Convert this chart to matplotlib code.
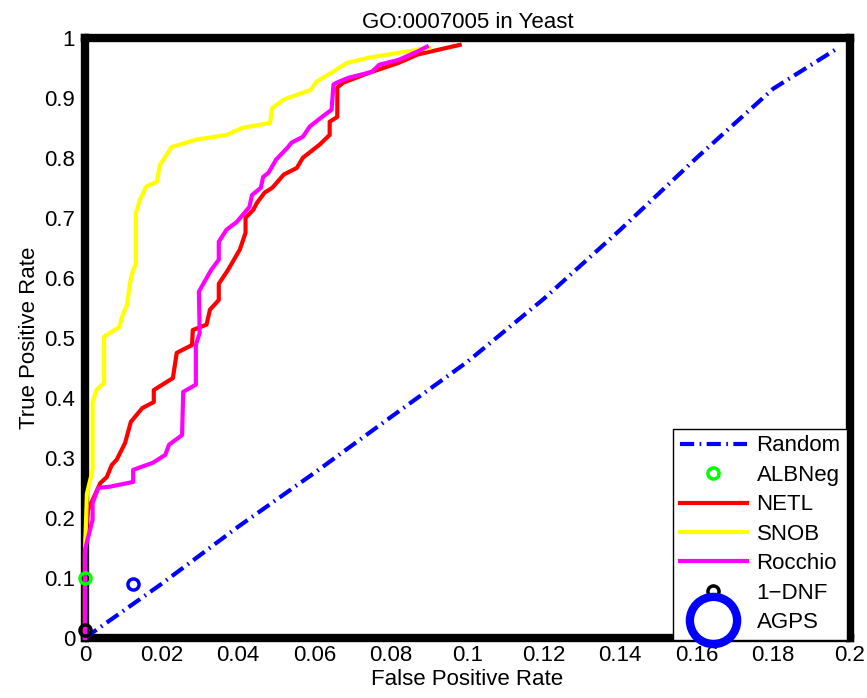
import matplotlib
matplotlib.use("Agg")
import matplotlib.pyplot as plt
from matplotlib.lines import Line2D

plt.rcParams['font.family'] = ['Liberation Sans', 'DejaVu Sans']

# ROC data
rand_fpr = [0, 0.02, 0.04, 0.06, 0.08, 0.1, 0.12, 0.14, 0.16, 0.18, 0.197]
rand_tpr = [0, 0.09, 0.185, 0.275, 0.368, 0.46, 0.565, 0.68, 0.80, 0.915, 0.983]

snob_fpr = [0, 0, 0.0005, 0.002, 0.002, 0.002, 0.003, 0.005, 0.005, 0.009, 0.0097,
            0.011, 0.0118, 0.0126, 0.0133, 0.0133, 0.0144, 0.016, 0.0188, 0.0196,
            0.0227, 0.029, 0.037, 0.0413, 0.0484, 0.049, 0.052, 0.059, 0.0606,
            0.0646, 0.0685, 0.0745, 0.090]
snob_tpr = [0, 0.14, 0.24, 0.28, 0.333, 0.393, 0.413, 0.425, 0.502, 0.518, 0.535,
            0.555, 0.592, 0.613, 0.622, 0.708, 0.73, 0.752, 0.76, 0.788,
            0.818, 0.83, 0.838, 0.85, 0.858, 0.883, 0.897, 0.913, 0.927,
            0.942, 0.958, 0.967, 0.983]

netl_fpr = [0, 0, 0.0008, 0.004, 0.0057, 0.007, 0.0083, 0.0105, 0.012, 0.015, 0.018,
            0.018, 0.023, 0.024, 0.028, 0.0282, 0.0318, 0.0327, 0.035, 0.035, 0.0374,
            0.0405, 0.042, 0.042, 0.044, 0.045, 0.047, 0.049, 0.052, 0.0554, 0.057,
            0.0614, 0.064, 0.064, 0.066, 0.066, 0.0675, 0.0745, 0.082, 0.087, 0.098]
netl_tpr = [0, 0.158, 0.213, 0.258, 0.268, 0.288, 0.297, 0.325, 0.36, 0.383, 0.393,
            0.413, 0.433, 0.475, 0.488, 0.513, 0.522, 0.547, 0.563, 0.59, 0.613,
            0.647, 0.675, 0.70, 0.713, 0.725, 0.742, 0.75, 0.772, 0.783, 0.80,
            0.822, 0.838, 0.86, 0.868, 0.917, 0.925, 0.942, 0.958, 0.972, 0.988]

roc_fpr = [0, 0, 0.001, 0.002, 0.002, 0.0035, 0.0065, 0.0126, 0.0126, 0.0178, 0.021,
           0.022, 0.0254, 0.0257, 0.029, 0.029, 0.030, 0.0298, 0.033, 0.035, 0.035,
           0.037, 0.0397, 0.043, 0.0437, 0.046, 0.0466, 0.048, 0.050, 0.053, 0.054,
           0.057, 0.0588, 0.062, 0.0645, 0.065, 0.0658, 0.0688, 0.075, 0.077, 0.082,
           0.087, 0.0894]
roc_tpr = [0, 0.147, 0.172, 0.197, 0.225, 0.25, 0.252, 0.26, 0.28, 0.292, 0.305,
           0.322, 0.338, 0.41, 0.422, 0.488, 0.508, 0.577, 0.613, 0.63, 0.66,
           0.68, 0.693, 0.718, 0.738, 0.75, 0.768, 0.775, 0.797, 0.817, 0.825,
           0.835, 0.852, 0.868, 0.88, 0.922, 0.925, 0.933, 0.943, 0.955, 0.963,
           0.977, 0.985]

albneg = (0, 0.1)
dnf = (0, 0.013)
agps = (0.0125, 0.09)

xticks = [0, 0.02, 0.04, 0.06, 0.08, 0.1, 0.12, 0.14, 0.16, 0.18, 0.2]
xlabels = ['0', '0.02', '0.04', '0.06', '0.08', '0.1', '0.12', '0.14', '0.16', '0.18', '0.2']
yticks = [0, 0.1, 0.2, 0.3, 0.4, 0.5, 0.6, 0.7, 0.8, 0.9, 1]
ylabels = ['0', '0.1', '0.2', '0.3', '0.4', '0.5', '0.6', '0.7', '0.8', '0.9', '1']

fs = 16
fig = plt.figure(figsize=(8.67, 6.98), dpi=100)
ax = fig.add_axes([0.098, 0.086, 0.882, 0.86])

lw = 3
dashdot = (0, (3.4, 1.3, 0.4, 1.3))
ax.plot(rand_fpr, rand_tpr, color='blue', lw=lw, ls=dashdot, zorder=3, clip_on=False)
ax.plot(*albneg, 'o', mfc='none', mec='#00ff00', ms=8, mew=2.5, zorder=4, clip_on=False)
ax.plot(netl_fpr, netl_tpr, color='red', lw=lw, zorder=3, clip_on=False)
ax.plot(snob_fpr, snob_tpr, color='yellow', lw=lw, zorder=3, clip_on=False)
ax.plot(roc_fpr, roc_tpr, color='magenta', lw=lw, zorder=3, clip_on=False)
ax.plot(*dnf, 'o', mfc='none', mec='black', ms=8, mew=2.5, zorder=4, clip_on=False)
ax.plot(*agps, 'o', mfc='none', mec='blue', ms=8, mew=2.5, zorder=4, clip_on=False)

handles = [
    Line2D([], [], color='blue', lw=lw, ls=dashdot),
    Line2D([], [], ls='none', marker='o', mfc='none', mec='#00ff00', ms=8, mew=2.5),
    Line2D([], [], color='red', lw=lw),
    Line2D([], [], color='yellow', lw=lw),
    Line2D([], [], color='magenta', lw=lw),
    Line2D([], [], ls='none', marker='o', mfc='none', mec='black', ms=8, mew=2.5),
    Line2D([], [], ls='none', marker='o', mfc='none', mec='blue', ms=34, mew=6),
]
names = ['Random', 'ALBNeg', 'NETL', 'SNOB', 'Rocchio', '1\u2212DNF', 'AGPS']
leg = ax.legend(handles, names, loc='lower right', bbox_to_anchor=(0.997, -0.003),
                fontsize=fs, fancybox=False, framealpha=1, edgecolor='black',
                handlelength=3.0, handletextpad=0.45, labelspacing=0.38,
                borderpad=0.3, borderaxespad=0)
leg.get_frame().set_linewidth(1)
leg.set_zorder(10)

ax.set_xlim(0, 0.2)
ax.set_ylim(0, 1)
ax.set_xticks(xticks)
ax.set_xticklabels(xlabels)
ax.set_yticks(yticks)
ax.set_yticklabels(ylabels)
ax.tick_params(direction='in', length=3, width=6, labelsize=fs, top=True, right=True)
ax.tick_params(axis='x', pad=5)
ax.tick_params(axis='y', pad=7)
for s in ax.spines.values():
    s.set_linewidth(6)

ax.set_title('GO:0007005 in Yeast', fontsize=fs, pad=7)
ax.set_xlabel('False Positive Rate', fontsize=fs, labelpad=2)
ax.set_ylabel('True Positive Rate', fontsize=fs, labelpad=3)

fig.savefig('out.png', dpi=100)
